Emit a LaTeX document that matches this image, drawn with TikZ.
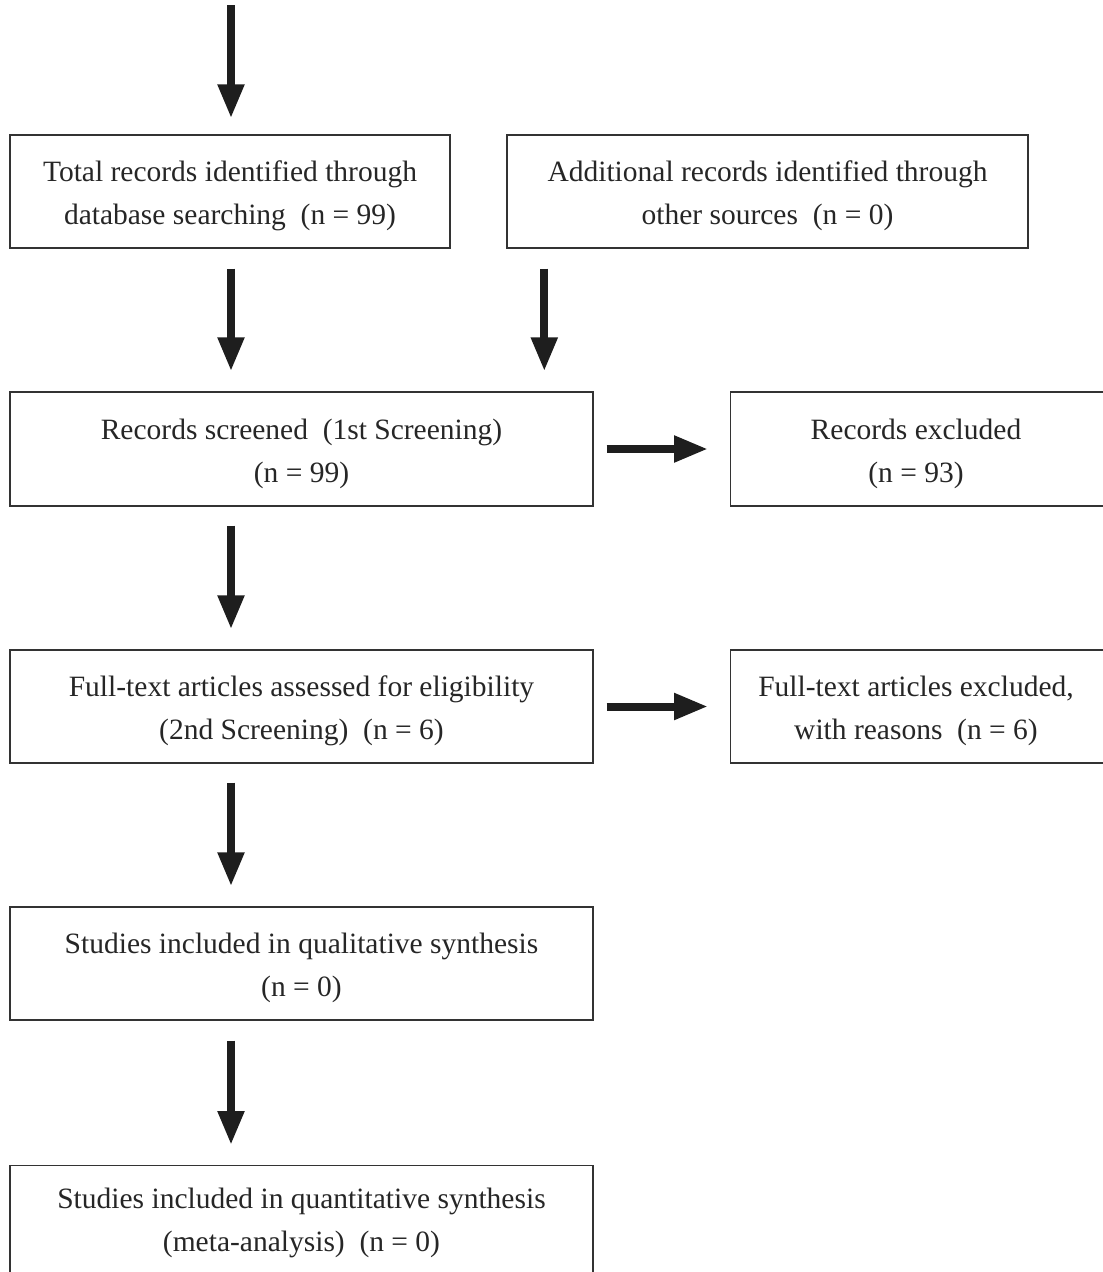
\documentclass[tikz,border=0pt]{standalone}
\usepackage{fontspec}
\setmainfont{Liberation Serif}
\usetikzlibrary{arrows.meta,calc}
\definecolor{boxline}{HTML}{333333}
\definecolor{arrowc}{HTML}{1E1E1E}
\tikzset{
  boxfont/.style={font=\fontsize{29.5}{43}\selectfont, text=black!85, align=center, inner sep=0pt},
  flowbox/.style={draw=boxline, line width=1.4pt, rectangle, inner sep=0pt},
  boxtext/.style={boxfont, yshift=-4.5pt},
  bigarrow/.style={draw=arrowc, line width=8pt,
    -{Triangle[width=25pt,length=34pt]}},
}
\begin{document}
\begin{tikzpicture}[x=1pt,y=-1pt]
\useasboundingbox (0,0) rectangle (1103,1272);
\node[flowbox, minimum width=440pt, minimum height=113pt] (b1) at (230,191.5) {};
\node[boxtext] (t1) at (b1.center)
  {Total records identified through\\database searching\hspace{0.5em}(n = 99)};
\node[flowbox, minimum width=521pt, minimum height=113pt] (b2) at (767.5,191.5) {};
\node[boxtext] (t2) at (b2.center)
  {Additional records identified through\\other sources\hspace{0.5em}(n = 0)};
\node[flowbox, minimum width=583pt, minimum height=114pt] (b3) at (301.5,449) {};
\node[boxtext] (t3) at (b3.center)
  {Records screened\hspace{0.5em}(1st Screening)\\(n = 99)};
\node[flowbox, minimum width=376pt, minimum height=114pt, anchor=west] (b4) at (730,449) {};
\node[boxtext] (t4) at (916,449)
  {Records excluded\\(n = 93)};
\node[flowbox, minimum width=583pt, minimum height=113pt] (b5) at (301.5,706.5) {};
\node[boxtext] (t5) at (b5.center)
  {Full-text articles assessed for eligibility\\(2nd Screening)\hspace{0.5em}(n = 6)};
\node[flowbox, minimum width=376pt, minimum height=113pt, anchor=west] (b6) at (730,706.5) {};
\node[boxtext] (t6) at (916,706.5)
  {Full-text articles excluded,\\with reasons\hspace{0.5em}(n = 6)};
\node[flowbox, minimum width=583pt, minimum height=113pt] (b7) at (301.5,963.5) {};
\node[boxtext] (t7) at (b7.center)
  {Studies included in qualitative synthesis\\(n = 0)};
\node[flowbox, minimum width=583pt, minimum height=112pt, anchor=north] (b8) at (301.5,1165) {};
\node[boxtext] (t8) at (301.5,1218)
  {Studies included in quantitative synthesis\\(meta-analysis)\hspace{0.5em}(n = 0)};
\coordinate (top) at (231,5);
\coordinate (c2) at ($(b2.south west)+(38,0)$);
\draw[bigarrow, shorten >=16pt] (top) -- (top |- b1.north);
\draw[bigarrow, shorten <=20pt, shorten >=20pt] (top |- b1.south) -- (top |- b3.north);
\draw[bigarrow, shorten <=20pt, shorten >=20pt] (c2) -- (c2 |- b3.north);
\draw[bigarrow, shorten <=13pt, shorten >=22pt] (b3.east) -- (b3.east -| b4.west);
\draw[bigarrow, shorten <=19pt, shorten >=20pt] (top |- b3.south) -- (top |- b5.north);
\draw[bigarrow, shorten <=13pt, shorten >=22pt] (b5.east) -- (b5.east -| b6.west);
\draw[bigarrow, shorten <=19pt, shorten >=20pt] (top |- b5.south) -- (top |- b7.north);
\draw[bigarrow, shorten <=20pt, shorten >=20pt] (top |- b7.south) -- (top |- b8.north);
\end{tikzpicture}
\end{document}
